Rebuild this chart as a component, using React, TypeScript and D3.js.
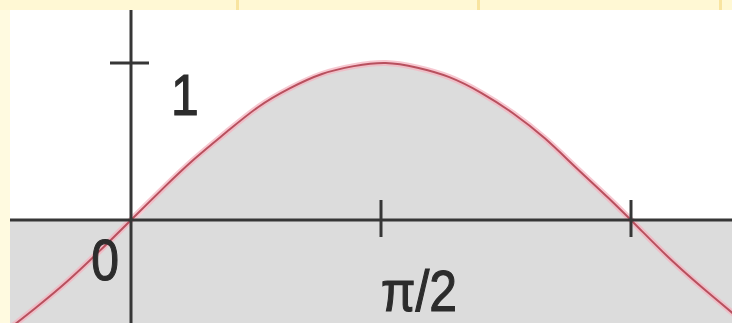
import * as d3 from 'd3';

// curve readings: x in radians, y value
const curveX = [-0.8, -0.6, -0.4, -0.2, 0, 0.2, 0.4, 0.6, 0.8, 1.0, 1.2, 1.4, 1.6, 1.8, 2.0, 2.2, 2.4, 2.6, 2.8, 3.0, 3.2, 3.4, 3.6, 3.8];
const curveY = [-0.72, -0.56, -0.39, -0.2, 0, 0.2, 0.39, 0.56, 0.72, 0.84, 0.93, 0.98, 1.0, 0.97, 0.91, 0.81, 0.68, 0.52, 0.33, 0.14, -0.06, -0.26, -0.44, -0.61];

const xTicks = [Math.PI / 2, Math.PI];
const xTickLabels = ['π/2', ''];
const yTicks = [1];
const yTickLabels = ['1'];
const frameLines = [237, 478, 720];

export default function App() {
  const width = 732;
  const height = 323;
  const plot = { left: 10, top: 10, right: 732, bottom: 323 };

  const x = d3.scaleLinear().domain([0, Math.PI]).range([131, 631]);
  const y = d3.scaleLinear().domain([0, 1]).range([220, 63]);

  const pts = curveX.map((v, i) => ({ x: v, y: curveY[i] }));

  const line = d3
    .line<{ x: number; y: number }>()
    .x((d) => x(d.x))
    .y((d) => y(d.y))
    .curve(d3.curveNatural);

  const fill = d3
    .area<{ x: number; y: number }>()
    .x((d) => x(d.x))
    .y0(plot.bottom)
    .y1((d) => y(Math.max(d.y, 0)))
    .curve(d3.curveMonotoneX);

  const x0 = x(0);
  const y0 = y(0);
  const font = '"Liberation Sans", Arial, sans-serif';
  const axisColor = '#363636';

  // condensed, slightly heavy label like the original raster
  const label = (tx: number, ty: number, text: string, anchor: 'start' | 'end' = 'start') => (
    <text
      transform={`translate(${tx},${ty}) scale(0.86,1)`}
      textAnchor={anchor}
      fontSize={58}
      fontFamily={font}
      fill="#2c2c2c"
      stroke="#2c2c2c"
      strokeWidth={1.2}
    >
      {text}
    </text>
  );

  return (
    <svg width={width} height={height} style={{ position: 'absolute', left: 0, top: 0 }}>
      <defs>
        <clipPath id="plot">
          <rect x={plot.left} y={plot.top} width={plot.right - plot.left} height={plot.bottom - plot.top} />
        </clipPath>
      </defs>
      <rect width={width} height={height} fill="#fffae0" />
      <rect width={width} height={plot.top} fill="#fff8d4" />
      {frameLines.map((fx) => (
        <rect key={fx} x={fx - 1} y={0} width={3} height={plot.top} fill="#f8e4a0" />
      ))}
      <g clipPath="url(#plot)">
        <rect x={plot.left} y={plot.top} width={plot.right - plot.left} height={plot.bottom - plot.top} fill="#ffffff" />
        <path d={fill(pts) ?? ''} fill="#dcdcdc" />
        <rect x={plot.left} y={y0} width={plot.right - plot.left} height={plot.bottom - y0} fill="#dcdcdc" />
        <path d={line(pts) ?? ''} fill="none" stroke="#f4b4c0" strokeWidth={6} opacity={0.75} />
        <path d={line(pts) ?? ''} fill="none" stroke="#b8505e" strokeWidth={2} />

        <line x1={plot.left} x2={plot.right} y1={y0} y2={y0} stroke={axisColor} strokeWidth={3} />
        <line x1={x0} x2={x0} y1={plot.top} y2={plot.bottom} stroke={axisColor} strokeWidth={3} />

        {yTicks.map((t, i) => (
          <g key={t}>
            <line x1={x0 - 21} x2={x0 + 18} y1={y(t)} y2={y(t)} stroke={axisColor} strokeWidth={3} />
            {label(x0 + 40, y(t) + 52, yTickLabels[i])}
          </g>
        ))}

        {xTicks.map((t, i) => (
          <g key={t}>
            <line x1={x(t)} x2={x(t)} y1={y0 - 20} y2={y0 + 17} stroke={axisColor} strokeWidth={3} />
            {label(x(t), y0 + 91, xTickLabels[i])}
          </g>
        ))}

        {label(x0 - 12, y0 + 60, '0', 'end')}
      </g>
    </svg>
  );
}
